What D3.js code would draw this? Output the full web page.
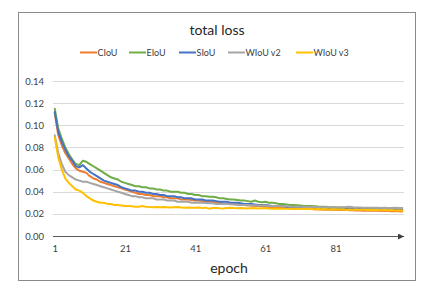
<!DOCTYPE html>
<html><head><meta charset="utf-8">
<script src="https://cdn.jsdelivr.net/npm/d3@7"></script>
<style>html,body{margin:0;padding:0;background:#fff;}svg{display:block;}</style>
</head><body>
<script>
const seriesNames = ["CIoU","EIoU","SIoU","WIoU v2","WIoU v3"];
const seriesColors = ["#ED7D31","#70AD47","#4472C4","#A5A5A5","#FFC000"];
const yTicks = [0,0.02,0.04,0.06,0.08,0.10,0.12,0.14];
const xTickLabels = ["1","21","41","61","81"];
const epochs = d3.range(1,101);

const ciou = [0.111,0.091,0.082,0.075,0.070,0.065,0.061,0.059,0.058,0.057,
0.054,0.052,0.051,0.049,0.048,0.047,0.046,0.045,0.044,0.043,
0.042,0.041,0.040,0.039,0.038,0.038,0.037,0.037,0.036,0.036,
0.036,0.035,0.035,0.034,0.034,0.034,0.033,0.033,0.033,0.0325,
0.032,0.032,0.0315,0.031,0.031,0.031,0.030,0.030,0.0295,0.029,
0.029,0.029,0.0285,0.028,0.028,0.0275,0.0275,0.027,0.027,0.0268,
0.0265,0.0265,0.026,0.026,0.0258,0.0255,0.0255,0.025,0.025,0.0248,
0.0248,0.0245,0.0245,0.0243,0.0242,0.024,0.024,0.0238,0.024,0.0236,
0.0236,0.0235,0.0234,0.0236,0.0232,0.0232,0.023,0.0231,0.0229,0.0228,
0.0228,0.0227,0.0229,0.0226,0.0225,0.0226,0.0224,0.0223,0.0224,0.0222];
const eiou = [0.115,0.097,0.088,0.080,0.074,0.069,0.065,0.064,0.068,0.067,
0.065,0.063,0.061,0.059,0.057,0.055,0.053,0.052,0.051,0.049,
0.048,0.047,0.046,0.045,0.045,0.044,0.044,0.043,0.043,0.042,
0.042,0.041,0.041,0.040,0.040,0.040,0.039,0.039,0.038,0.038,
0.037,0.037,0.036,0.036,0.0355,0.0355,0.035,0.034,0.034,0.0335,
0.033,0.033,0.0325,0.032,0.032,0.0315,0.031,0.032,0.031,0.0305,
0.031,0.030,0.030,0.0295,0.029,0.029,0.0285,0.028,0.028,0.0278,
0.0275,0.0272,0.027,0.027,0.0268,0.0266,0.0265,0.0265,0.0262,0.026,
0.026,0.0258,0.0257,0.0256,0.0255,0.0253,0.0252,0.025,0.025,0.0248,
0.0248,0.0246,0.0245,0.0245,0.0244,0.0243,0.0242,0.0242,0.024,0.024];
const siou = [0.112,0.094,0.085,0.078,0.072,0.068,0.063,0.062,0.064,0.061,
0.058,0.056,0.054,0.052,0.050,0.049,0.048,0.047,0.046,0.044,
0.043,0.042,0.041,0.041,0.040,0.040,0.039,0.039,0.038,0.038,
0.037,0.037,0.036,0.036,0.036,0.035,0.035,0.034,0.034,0.034,
0.033,0.033,0.033,0.032,0.032,0.032,0.0315,0.031,0.031,0.031,
0.030,0.030,0.030,0.0295,0.029,0.029,0.029,0.0285,0.028,0.028,
0.028,0.0275,0.027,0.027,0.027,0.0268,0.0265,0.0263,0.026,0.026,
0.026,0.0258,0.0256,0.0255,0.0255,0.0252,0.025,0.025,0.0252,0.025,
0.0248,0.0248,0.0246,0.025,0.0247,0.0245,0.0244,0.0243,0.0242,0.0242,
0.0241,0.0242,0.024,0.0239,0.024,0.0238,0.0239,0.0238,0.0237,0.0236];
const wiouV2 = [0.091,0.075,0.065,0.058,0.055,0.053,0.051,0.050,0.049,0.049,
0.048,0.047,0.046,0.045,0.044,0.043,0.042,0.041,0.040,0.039,
0.038,0.037,0.036,0.036,0.035,0.035,0.034,0.034,0.034,0.033,
0.033,0.033,0.032,0.032,0.032,0.031,0.031,0.031,0.031,0.030,
0.030,0.030,0.030,0.0298,0.0296,0.0295,0.029,0.029,0.029,0.0288,
0.0286,0.0285,0.0283,0.028,0.028,0.0279,0.0278,0.0277,0.0275,0.0275,
0.0275,0.0273,0.0272,0.027,0.027,0.0268,0.0268,0.0266,0.0265,0.0265,
0.0264,0.0263,0.0262,0.0262,0.0261,0.026,0.026,0.026,0.0259,0.0258,
0.0258,0.0258,0.026,0.0262,0.0265,0.026,0.0258,0.0257,0.0256,0.0256,
0.0255,0.0256,0.0255,0.0254,0.0255,0.0254,0.0253,0.0255,0.0254,0.0253];
const wiouV3 = [0.089,0.071,0.060,0.052,0.048,0.045,0.042,0.041,0.039,0.036,
0.034,0.032,0.031,0.030,0.030,0.029,0.029,0.028,0.028,0.0275,
0.027,0.027,0.0268,0.0265,0.0265,0.027,0.0265,0.0262,0.026,0.0262,
0.026,0.0262,0.026,0.0258,0.026,0.0262,0.0258,0.0255,0.0258,0.0256,
0.0255,0.0257,0.0254,0.0256,0.0247,0.0253,0.0254,0.025,0.0248,0.0252,
0.0255,0.0252,0.025,0.0253,0.0251,0.0249,0.0252,0.025,0.0248,0.0251,
0.025,0.0248,0.0247,0.0249,0.0246,0.0248,0.0245,0.0247,0.0244,0.0246,
0.0245,0.0243,0.0246,0.0244,0.0242,0.0244,0.0241,0.0243,0.024,0.0242,
0.0241,0.0239,0.0241,0.0238,0.024,0.0237,0.0239,0.0236,0.0238,0.0235,
0.0237,0.0234,0.0236,0.0233,0.0235,0.0232,0.0234,0.0231,0.0233,0.023];
const seriesValues = [ciou,eiou,siou,wiouV2,wiouV3];

const W=430,H=293;
const font = "Lato, 'Open Sans', sans-serif";
const svg = d3.select("body").append("svg").attr("width",W).attr("height",H);
svg.append("rect").attr("x",0).attr("y",0).attr("width",W).attr("height",H).attr("fill","#fff");
svg.append("rect").attr("x",18.5).attr("y",12.5).attr("width",397).attr("height",268)
  .attr("fill","none").attr("stroke","#8a8a8a").attr("stroke-width",1);

const x = d3.scalePoint().domain(epochs).range([53,404]).padding(0.5);
const y = d3.scaleLinear().domain([0,0.14]).range([236,81]);

// gridlines
svg.append("g").selectAll("line").data(yTicks.filter(d=>d>0)).join("line")
  .attr("x1",53).attr("x2",404).attr("y1",d=>Math.round(y(d))+0.5).attr("y2",d=>Math.round(y(d))+0.5)
  .attr("stroke","#d9d9d9").attr("stroke-width",1);

// y axis labels
const yAxis = d3.axisLeft(y).tickValues(yTicks).tickFormat(d3.format(".2f")).tickSize(0).tickPadding(0);
const gy = svg.append("g").attr("transform","translate(44,0)").call(yAxis);
gy.select(".domain").remove();
gy.selectAll("text").attr("font-family",font).attr("font-size",9.5).attr("fill","#404040");

// x axis labels
const xAxis = d3.axisBottom(x).tickValues(xTickLabels.map(Number)).tickSize(0).tickPadding(0);
const gx = svg.append("g").attr("transform","translate(0,245)").call(xAxis);
gx.select(".domain").remove();
gx.selectAll("text").attr("font-family",font).attr("font-size",9.5).attr("fill","#404040");

// lines
const line = d3.line().x((d,i)=>x(epochs[i])).y(d=>y(d));
seriesValues.forEach((vals,i)=>{
  svg.append("path").datum(vals).attr("d",line).attr("fill","none")
    .attr("stroke",seriesColors[i]).attr("stroke-width",2).attr("stroke-linejoin","round").attr("stroke-linecap","round");
});

// x axis line with arrow
svg.append("defs").append("marker").attr("id","arr").attr("viewBox","0 0 10 10")
  .attr("refX",10).attr("refY",5).attr("markerWidth",8).attr("markerHeight",6)
  .attr("markerUnits","userSpaceOnUse").attr("orient","auto")
  .append("path").attr("d","M0,0L10,5L0,10Z").attr("fill","#404040");
svg.append("line").attr("x1",53).attr("x2",404).attr("y1",y(0)+0.5).attr("y2",y(0)+0.5)
  .attr("stroke","#595959").attr("stroke-width",1).attr("marker-end","url(#arr)");

// title
svg.append("text").attr("x",217).attr("y",35).attr("text-anchor","middle")
  .attr("font-family",font).attr("font-size",14).attr("fill","#262626").text("total loss");

// x title
svg.append("text").attr("x",229).attr("y",273).attr("text-anchor","middle")
  .attr("font-family",font).attr("font-size",14).attr("fill","#262626").text("epoch");

// legend
const legX = [80,129,179,228,296];
const lg = svg.append("g");
seriesNames.forEach((n,i)=>{
  const g = lg.append("g").attr("transform",`translate(${legX[i]},52.5)`);
  g.append("line").attr("x1",0).attr("x2",17).attr("y1",0).attr("y2",0)
    .attr("stroke",seriesColors[i]).attr("stroke-width",2);
  g.append("text").attr("x",17.5).attr("y",3.3).attr("font-family",font).attr("font-size",9)
    .attr("fill","#404040").text(n);
});
</script>
</body></html>
